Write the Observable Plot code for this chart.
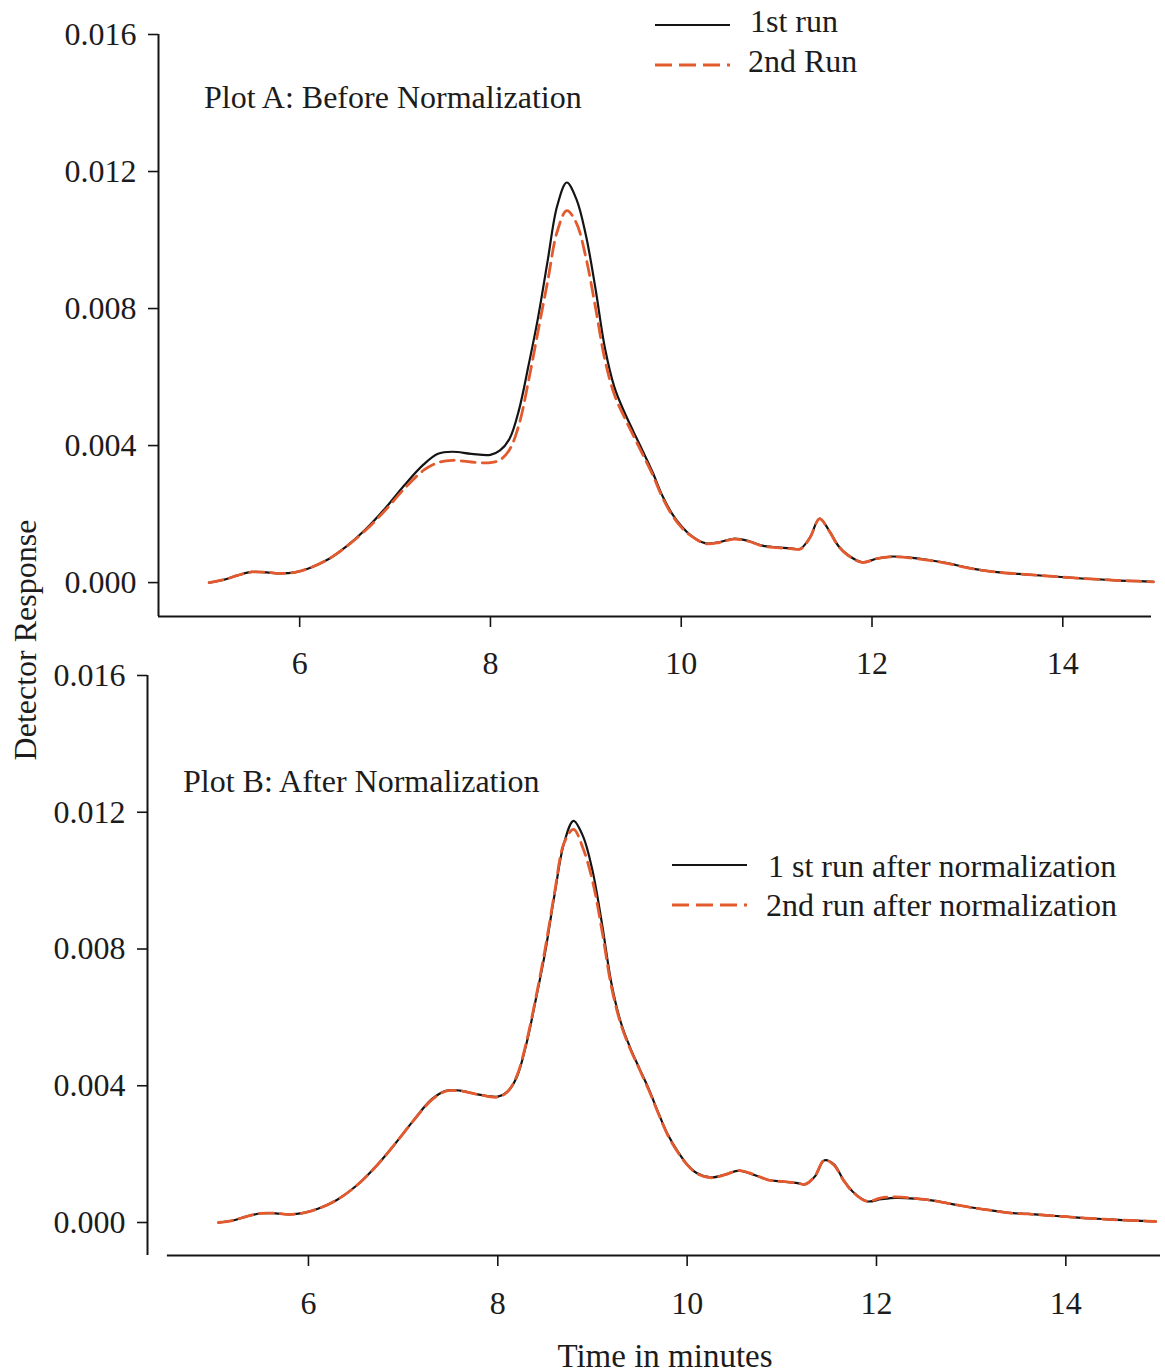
<!DOCTYPE html>
<html>
<head>
<meta charset="utf-8">
<script src="https://cdn.jsdelivr.net/npm/d3@7"></script>
<script src="https://cdn.jsdelivr.net/npm/@observablehq/plot@0.6"></script>
<style>
html, body { margin: 0; padding: 0; background: #fff; overflow: hidden; }
#root { position: relative; width: 1165px; height: 1372px; font-family: "Liberation Serif", "Times New Roman", serif; color: #1c1c1c; }
#root svg.plt { position: absolute; left: 0; overflow: visible; }
</style>
</head>
<body>
<div id="root"></div>
<script>
// ---------- data ----------
const times = [5.05, 5.2, 5.35, 5.5, 5.65, 5.8, 5.95, 6.1, 6.3, 6.5, 6.7, 6.9, 7.1, 7.3, 7.45, 7.6, 7.8,
  8.0, 8.1, 8.2, 8.3, 8.4, 8.5, 8.6, 8.7, 8.8, 8.9, 9.0, 9.1, 9.2, 9.3, 9.4, 9.5, 9.6, 9.7, 9.8, 9.9,
  10.0, 10.1, 10.25, 10.4, 10.55, 10.7, 10.85, 11.0, 11.15, 11.25, 11.35, 11.45, 11.55, 11.65, 11.75, 11.9,
  12.05, 12.2, 12.4, 12.6, 12.8, 13.0, 13.2, 13.4, 13.6, 13.8, 14.0, 14.2, 14.4, 14.6, 14.8, 14.95];

// Plot A: before normalization
const run1A = [0.00000, 0.00008, 0.00021, 0.00031, 0.00030, 0.00027, 0.00030, 0.00042, 0.00068, 0.00108, 0.00158, 0.00218, 0.00285, 0.00345, 0.00376, 0.00382, 0.00376,
  0.00373, 0.00386, 0.00420, 0.00505, 0.00635, 0.00775, 0.00940, 0.01100, 0.01168, 0.01120, 0.01015, 0.00860, 0.00685, 0.00570, 0.00500, 0.00440, 0.00382, 0.00322, 0.00255, 0.00203,
  0.00165, 0.00138, 0.00115, 0.00118, 0.00128, 0.00122, 0.00108, 0.00103, 0.00100, 0.00099, 0.00132, 0.00187, 0.00152, 0.00106, 0.00080, 0.00059,
  0.00070, 0.00076, 0.00073, 0.00066, 0.00056, 0.00044, 0.00034, 0.00028, 0.00024, 0.00020, 0.00016, 0.00012, 0.00009, 0.00006, 0.00004, 0.00002];
const run2A = [0.00000, 0.00008, 0.00021, 0.00031, 0.00030, 0.00027, 0.00030, 0.00042, 0.00068, 0.00107, 0.00155, 0.00212, 0.00275, 0.00328, 0.00350, 0.00357, 0.00352,
  0.00350, 0.00358, 0.00388, 0.00462, 0.00590, 0.00735, 0.00880, 0.01025, 0.01086, 0.01050, 0.00950, 0.00805, 0.00650, 0.00548, 0.00485, 0.00428, 0.00372, 0.00315, 0.00250, 0.00199,
  0.00162, 0.00137, 0.00114, 0.00117, 0.00127, 0.00121, 0.00107, 0.00102, 0.00099, 0.00098, 0.00131, 0.00186, 0.00151, 0.00105, 0.00079, 0.00059,
  0.00070, 0.00075, 0.00072, 0.00065, 0.00055, 0.00043, 0.00034, 0.00028, 0.00024, 0.00020, 0.00016, 0.00012, 0.00009, 0.00006, 0.00004, 0.00002];

// Plot B: after normalization
const run1B = [0.00000, 0.00006, 0.00018, 0.00027, 0.00027, 0.00024, 0.00028, 0.00040, 0.00066, 0.00106, 0.00160, 0.00225, 0.00295, 0.00360, 0.00385, 0.00386, 0.00374,
  0.00368, 0.00382, 0.00425, 0.00520, 0.00650, 0.00790, 0.00960, 0.01110, 0.01175, 0.01130, 0.01030, 0.00875, 0.00700, 0.00585, 0.00510, 0.00448, 0.00387, 0.00318, 0.00255, 0.00208,
  0.00170, 0.00145, 0.00132, 0.00140, 0.00152, 0.00140, 0.00125, 0.00120, 0.00116, 0.00112, 0.00135, 0.00182, 0.00170, 0.00125, 0.00090, 0.00062,
  0.00068, 0.00072, 0.00070, 0.00064, 0.00054, 0.00044, 0.00036, 0.00028, 0.00025, 0.00021, 0.00017, 0.00013, 0.00010, 0.00007, 0.00005, 0.00003];
const run2B = [0.00000, 0.00006, 0.00018, 0.00027, 0.00027, 0.00024, 0.00028, 0.00040, 0.00066, 0.00106, 0.00160, 0.00225, 0.00295, 0.00358, 0.00384, 0.00385, 0.00374,
  0.00367, 0.00382, 0.00428, 0.00525, 0.00655, 0.00800, 0.00965, 0.01110, 0.01150, 0.01095, 0.01000, 0.00855, 0.00690, 0.00580, 0.00507, 0.00446, 0.00384, 0.00316, 0.00253, 0.00206,
  0.00169, 0.00144, 0.00131, 0.00140, 0.00152, 0.00141, 0.00125, 0.00120, 0.00116, 0.00112, 0.00136, 0.00183, 0.00168, 0.00124, 0.00089, 0.00062,
  0.00072, 0.00075, 0.00071, 0.00064, 0.00054, 0.00044, 0.00036, 0.00028, 0.00025, 0.00021, 0.00017, 0.00013, 0.00010, 0.00007, 0.00005, 0.00003];

const xTicks = [6, 8, 10, 12, 14];
const yTicks = [0, 0.004, 0.008, 0.012, 0.016];
const titleA = "Plot A: Before Normalization";
const titleB = "Plot B: After Normalization";
const legendA = ["1st run", "2nd Run"];
const legendB = ["1 st run after normalization", "2nd run after normalization"];
const xLabel = "Time in minutes";
const yLabel = "Detector Response";

// ---------- styles ----------
const FONT = "Liberation Serif, Times New Roman, serif";
const INK = "#1c1c1c";
const BLACK = "#141414";
const RED = "#e45a2f";
const DASH = "14,7";

function rows(values) { return times.map((t, i) => ({t, v: values[i]})); }

function panel({s1, s2, xDomain, yDomain, axisStart, height, top, marginLeft, marginRight, marginTop, marginBottom, yTickSize, yPad, xPad}) {
  const svg = Plot.plot({
    width: 1165, height, marginLeft, marginRight, marginTop, marginBottom,
    style: {background: "transparent", overflow: "visible", fontFamily: FONT, color: INK},
    x: {domain: xDomain},
    y: {domain: yDomain},
    marks: [
      Plot.ruleX([xDomain[0]], {y1: yDomain[0], y2: 0.016, stroke: BLACK, strokeWidth: 2}),
      Plot.ruleY([yDomain[0]], {x1: axisStart, x2: xDomain[1], stroke: BLACK, strokeWidth: 2}),
      Plot.axisX({ticks: xTicks, tickSize: 11, tickPadding: xPad, label: null, fontSize: 32, stroke: BLACK, strokeWidth: 1.6, tickFormat: d => String(d)}),
      Plot.axisY({ticks: yTicks, tickSize: yTickSize, tickPadding: yPad, label: null, fontSize: 32, stroke: BLACK, strokeWidth: 1.6, tickFormat: d3.format(".3f")}),
      Plot.line(rows(s1), {x: "t", y: "v", stroke: BLACK, strokeWidth: 2.2, curve: "catmull-rom"}),
      Plot.line(rows(s2), {x: "t", y: "v", stroke: RED, strokeWidth: 2.8, strokeDasharray: DASH, curve: "catmull-rom"})
    ]
  });
  svg.classList.add("plt");
  svg.style.top = top + "px";
  return svg;
}

const root = document.getElementById("root");

root.appendChild(panel({
  s1: run1A, s2: run2A,
  xDomain: [4.52, 14.93], yDomain: [-0.00099, 0.016], axisStart: 4.52,
  height: 650, top: 0, marginLeft: 158, marginRight: 14, marginTop: 34, marginBottom: 34,
  yTickSize: 10, yPad: 12, xPad: 24
}));

root.appendChild(panel({
  s1: run1B, s2: run2B,
  xDomain: [4.3, 15.0], yDomain: [-0.000965, 0.016], axisStart: 4.51,
  height: 722, top: 650, marginLeft: 147, marginRight: 5, marginTop: 25, marginBottom: 117,
  yTickSize: 10, yPad: 12, xPad: 25
}));

// ---------- titles, legends, axis labels ----------
const ns = "http://www.w3.org/2000/svg";
const ov = document.createElementNS(ns, "svg");
ov.setAttribute("width", 1165); ov.setAttribute("height", 1372);
ov.setAttribute("style", "position:absolute;left:0;top:0;pointer-events:none;overflow:visible");
ov.setAttribute("font-family", FONT);
ov.setAttribute("fill", INK);
function txt(x, y, s, size, extra = {}) {
  const e = document.createElementNS(ns, "text");
  e.setAttribute("x", x); e.setAttribute("y", y); e.setAttribute("font-size", size);
  for (const k in extra) e.setAttribute(k, extra[k]);
  e.textContent = s; ov.appendChild(e);
}
function swatch(x1, x2, y, color, dashed) {
  const l = document.createElementNS(ns, "line");
  l.setAttribute("x1", x1); l.setAttribute("x2", x2); l.setAttribute("y1", y); l.setAttribute("y2", y);
  l.setAttribute("stroke", color); l.setAttribute("stroke-width", dashed ? 2.8 : 2.2);
  if (dashed) l.setAttribute("stroke-dasharray", "17,7");
  ov.appendChild(l);
}
txt(204, 108, titleA, 32);
swatch(655, 730, 25, BLACK, false); txt(750, 32, legendA[0], 32);
swatch(655, 730, 65, RED, true); txt(748, 72, legendA[1], 32);
txt(183, 792, titleB, 32);
swatch(672, 747, 865, BLACK, false); txt(768, 877, legendB[0], 32);
swatch(672, 747, 905, RED, true); txt(766, 916, legendB[1], 32);
txt(0, 0, yLabel, 32, {"text-anchor": "middle", transform: "translate(36,640) rotate(-90)"});
txt(665, 1367, xLabel, 33, {"text-anchor": "middle"});
root.appendChild(ov);
</script>
</body>
</html>
